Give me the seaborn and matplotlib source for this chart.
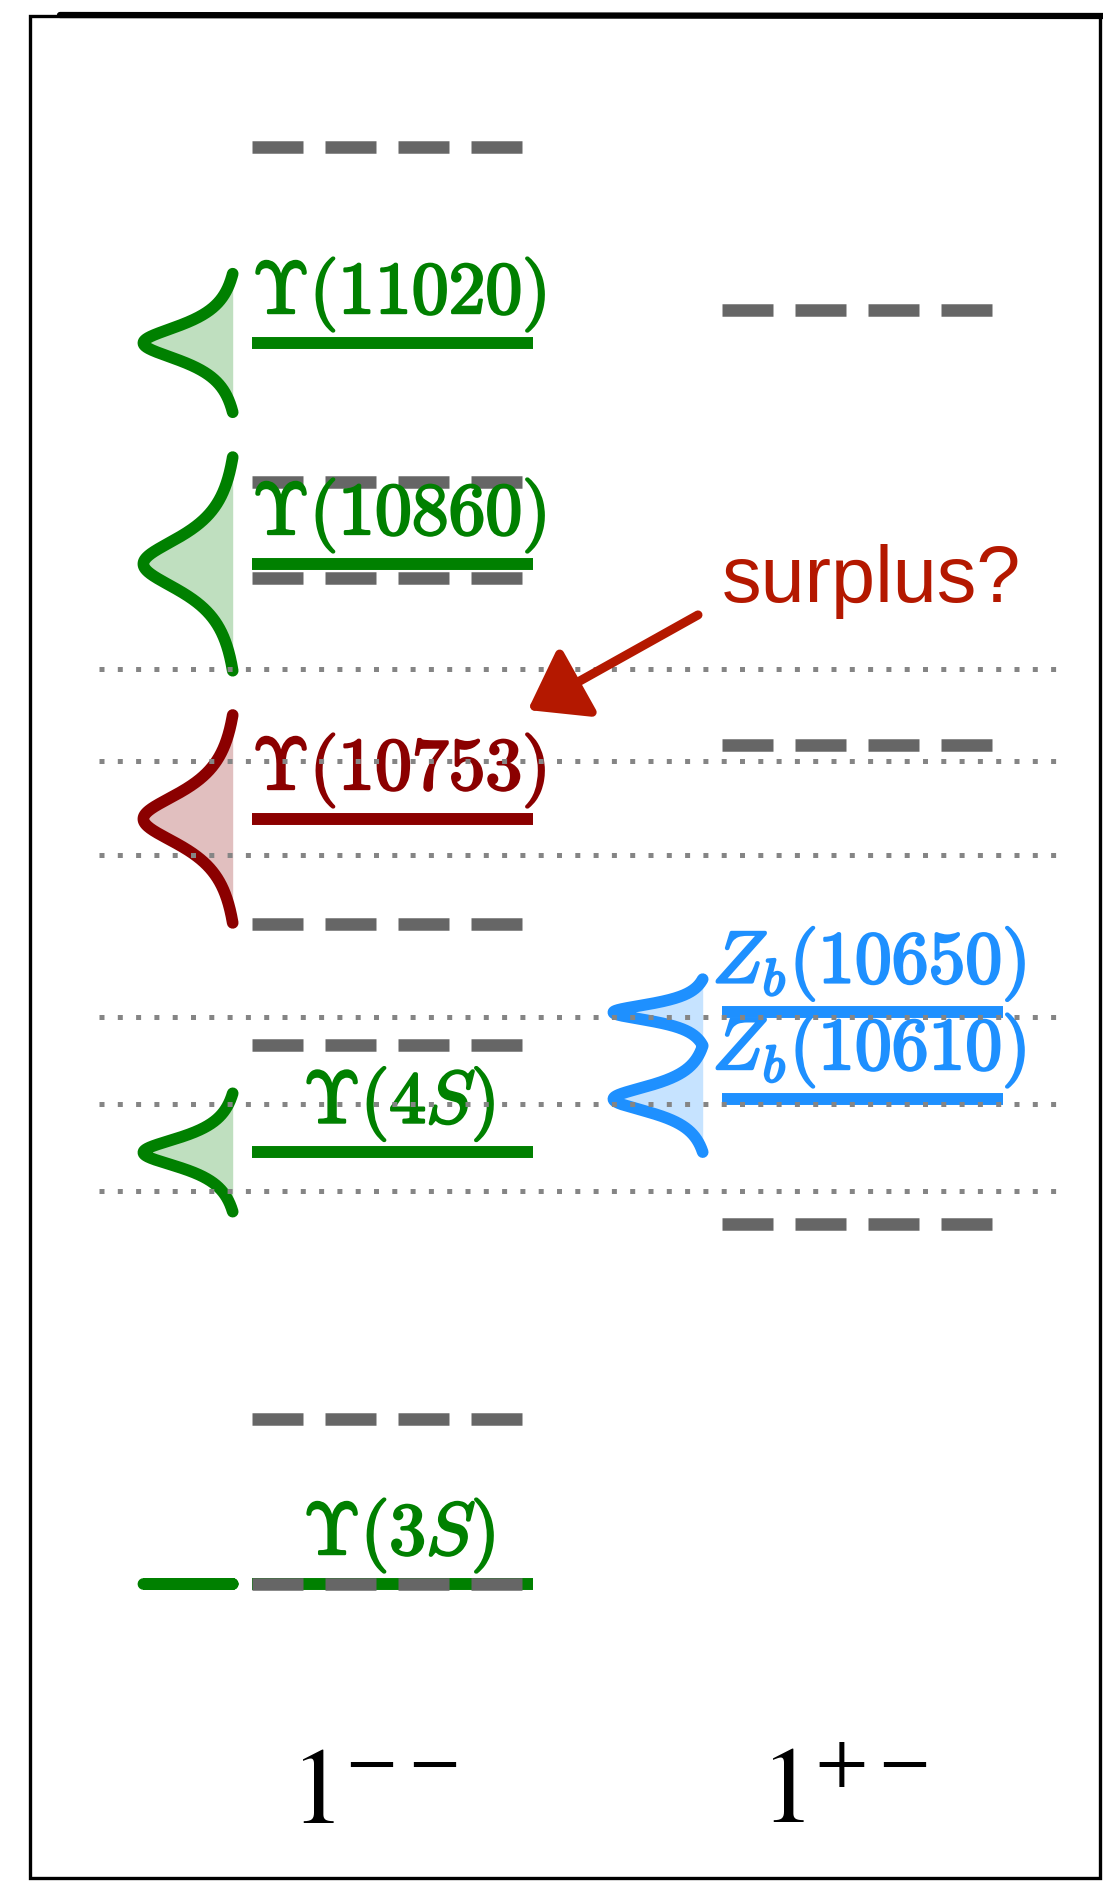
import numpy as np
import pandas as pd
import matplotlib
matplotlib.use("Agg")
import matplotlib.pyplot as plt
import matplotlib.transforms as mtransforms
import matplotlib.patheffects as pe
from matplotlib.patches import Rectangle, FancyArrowPatch
from matplotlib.lines import Line2D
import seaborn as sns

# ---------------------------------------------------------------- data
# J^PC = 1-- column: observed bottomonium-like vector states (MeV)
vec_labels = [r"$\Upsilon\mathbf{(3}S\mathbf{)}$",
              r"$\Upsilon\mathbf{(4}S\mathbf{)}$",
              r"$\Upsilon\mathbf{(10753)}$",
              r"$\Upsilon\mathbf{(10860)}$",
              r"$\Upsilon\mathbf{(11020)}$"]
vec_mass = [10355.2, 10579.4, 10752.7, 10885.2, 11000.0]
vec_width = [0.02, 20.5, 36.0, 37.0, 24.0]
vec_color = ["#008000", "#008000", "#8B0000", "#008000", "#008000"]

# J^PC = 1+- column: charged Zb states, drawn as one combined line shape
zb_labels = [r"$Z_b\mathbf{(10610)}$", r"$Z_b\mathbf{(10650)}$"]
zb_mass = [10607.2, 10652.2]
zb_width = [18.4, 11.5]
zb_color = "#1E90FF"

# quark-model predictions (grey dashed levels)
qm_vector = [10355, 10441, 10635, 10698, 10878, 10928, 11102]
qm_axial = [10542, 10791, 11017]

# open-bottom thresholds: BB, BB*, B*B*, BsBs, BsBs*, Bs*Bs*
thresholds = [10559.3, 10604.5, 10649.8, 10733.8, 10782.6, 10830.8]

jpc_labels = [r"$1^{--}$", r"$1^{+-}$"]
note_text = "surplus?"

# ---------------------------------------------------------------- style
sns.set_theme(style="white")
plt.rcParams["font.family"] = ["DejaVu Sans"]
plt.rcParams["mathtext.fontset"] = "cm"

W, H, DPI = 1103, 1882, 100
fig = plt.figure(figsize=(W / DPI, H / DPI), dpi=DPI)
ax = fig.add_axes([0, 0, 1, 1])
ax.set_xlim(-0.8351, 1.5117)
ax.set_ylim(10200.36, 11178.2)
ax.axis("off")

HALF = 0.299       # half length of a level line (column units)
EDGE = -0.34       # base of the line-shape profiles, relative to column
DEPTH = 0.19       # horizontal extent of a profile
SPAN = 1.5         # profiles are drawn out to +-SPAN*width
LABEL_DY = 15.6    # baseline of state labels above their level (MeV)
LEVEL_LW = 8.6
CURVE_LW = 8.4
GREY = "#666666"
DOT = "#858585"
RED = "#B41800"


def line_shape(masses, widths, n=1200):
    """Breit-Wigner peaks, each shifted so it vanishes at +-SPAN*width."""
    lo = min(m - SPAN * g for m, g in zip(masses, widths))
    hi = max(m + SPAN * g for m, g in zip(masses, widths))
    y = np.linspace(lo, hi, n)
    tail = 1.0 / (1.0 + 4 * SPAN ** 2)
    f = np.zeros_like(y)
    for m, g in zip(masses, widths):
        bw = 1.0 / (1.0 + 4 * ((y - m) / g) ** 2)
        f += np.clip((bw - tail) / (1 - tail), 0, None)
    return y, f


def draw_profile(col, masses, widths, color):
    y, f = line_shape(masses, widths)
    x = col + EDGE - DEPTH * f
    df = pd.DataFrame({"x": x, "y": y})
    ax.fill_betweenx(y, x, col + EDGE, color=color, alpha=0.25, lw=0, zorder=1)
    sns.lineplot(data=df, x="x", y="y", sort=False, estimator=None, ax=ax,
                 color=color, lw=CURVE_LW, solid_capstyle="round",
                 solid_joinstyle="round", zorder=2)


def draw_level(col, m, color, label):
    ax.plot([col - HALF, col + HALF], [m, m], color=color, lw=LEVEL_LW,
            solid_capstyle="butt", zorder=3)
    t = ax.text(col + 0.014, m + LABEL_DY, label, ha="center", va="baseline",
                fontsize=53, color=color, zorder=5)
    t.set_path_effects([pe.withStroke(linewidth=1.8, foreground=color)])


def draw_prediction(col, m):
    ax.plot([col - HALF, col + HALF], [m, m], color=GREY, lw=9,
            dashes=(4.08, 1.76), dash_capstyle="butt", zorder=4)


# column 0 : 1--
for lab, m, g, c in zip(vec_labels, vec_mass, vec_width, vec_color):
    draw_profile(0, [m], [g], c)
    draw_level(0, m, c, lab)
for m in qm_vector:
    draw_prediction(0, m)

# column 1 : 1+-
draw_profile(1, zb_mass, zb_width, zb_color)
for lab, m in zip(zb_labels, zb_mass):
    draw_level(1, m, zb_color, lab)
for m in qm_axial:
    draw_prediction(1, m)

# thresholds
for m in thresholds:
    ax.plot([-0.6245, 1.420], [m, m], color=DOT, lw=3.6, dashes=(1, 2.66),
            dash_capstyle="butt", zorder=6)

# quantum-number labels under each column
trans = mtransforms.blended_transform_factory(ax.transData, ax.transAxes)
for i, lab in enumerate(jpc_labels):
    ax.text(i - 0.04, 0.0313, lab, transform=trans, ha="center", va="baseline",
            fontsize=78, color="black", math_fontfamily="stix")

# annotation
ax.text(0.700, 10865.4, note_text, ha="left", va="baseline", fontsize=57,
        color=RED, family=["Liberation Sans", "DejaVu Sans"], zorder=7)
arrow = FancyArrowPatch(posA=(0.650, 10858.7), posB=(0.288, 10809.3),
                        arrowstyle="-|>,head_length=34,head_width=24",
                        mutation_scale=1, lw=6.5, color=RED,
                        joinstyle="round", capstyle="round",
                        shrinkA=0, shrinkB=0, zorder=7)
ax.add_patch(arrow)

# frame
fig.add_artist(Rectangle((30 / W, 4 / H), 1070 / W, 1862 / H,
                         transform=fig.transFigure, fill=False,
                         lw=2.4, ec="black"))
fig.add_artist(Line2D([60 / W, 1.0], [1 - 15 / H, 1 - 16 / H],
                      transform=fig.transFigure, lw=4.5, color="black"))

fig.savefig("out.png", dpi=DPI)
